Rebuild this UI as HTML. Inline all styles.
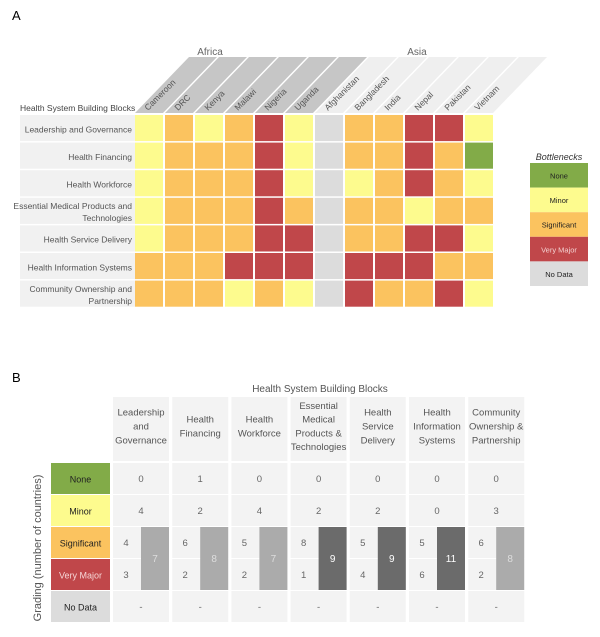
<!DOCTYPE html>
<html><head><meta charset="utf-8"><style>
html,body{margin:0;padding:0;background:#fff;}
svg{display:block;font-family:"Liberation Sans",sans-serif;}
</style></head><body>
<svg id="c" width="600" height="637" viewBox="0 0 600 637" xmlns="http://www.w3.org/2000/svg">
<text x="12" y="20" font-size="13" fill="#000">A</text>
<text x="12" y="382" font-size="13" fill="#000">B</text>
<g id="ga"></g>
<g id="gb"></g>
</svg>
<script>
const countries = ["Cameroon","DRC","Kenya","Malawi","Nigeria","Uganda","Afghanistan","Bangladesh","India","Nepal","Pakistan","Vietnam"];
const regions = ["Africa","Africa","Africa","Africa","Africa","Africa","Asia","Asia","Asia","Asia","Asia","Asia"];
const blocks = [["Leadership and Governance"],["Health Financing"],["Health Workforce"],["Essential Medical Products and","Technologies"],["Health Service Delivery"],["Health Information Systems"],["Community Ownership and","Partnership"]];
// Y=minor S=significant V=very major N=no data G=none
const grades = [
"YSYSVYNSSVVY",
"YSSSVYNSSVSG",
"YSSSVYNYSVSY",
"YSSSVSNSSYSS",
"YSSSVVNSSVVY",
"SSSVVVNVVVSS",
"SSSYSYNVSSVY"];
const legendLabels = ["None","Minor","Significant","Very Major","No Data"];
const legendKeys = ["G","Y","S","V","N"];
const colB = [["Leadership","and","Governance"],["Health","Financing"],["Health","Workforce"],["Essential","Medical","Products &","Technologies"],["Health","Service","Delivery"],["Health","Information","Systems"],["Community","Ownership &","Partnership"]];
const cntNone = [0,1,0,0,0,0,0];
const cntMinor = [4,2,4,2,2,0,3];
const cntSig = [4,6,5,8,5,5,6];
const cntVM = [3,2,2,1,4,6,2];
const totals = [7,8,7,9,9,11,8];

const COL = {G:"#82ab48",Y:"#fdfb8e",S:"#fbc35f",V:"#c0474a",N:"#dcdcdc"};
const NS="http://www.w3.org/2000/svg";
function mk(tag, attrs, parent){const e=document.createElementNS(NS,tag);for(const k in attrs)e.setAttribute(k,attrs[k]);parent.appendChild(e);return e;}
function txt(x,y,s,size,fill,anchor,parent){const t=mk("text",{x:x,y:y,"font-size":size,fill:fill,"text-anchor":anchor},parent);t.textContent=s;return t;}

const ga=document.getElementById("ga");
const x0=135, cw=28, cs=30, y0=115, rh=27.6;
const cx=i=>x0+i*cs, ry=j=>y0+j*rh;
// header bands
const bTop=57, bBot=113, sh=54;
countries.forEach((c,i)=>{
  const x=cx(i);
  const p=mk("polygon",{points:`${x},${bBot} ${x+cw},${bBot} ${x+cw+sh},${bTop} ${x+sh},${bTop}`,fill:regions[i]==="Africa"?"#c6c6c6":"#efefef"},ga);
  
  
  const t=txt(x+13,bBot-2,c,8.5,"#555","start",ga);
  t.setAttribute("transform",`rotate(-45 ${x+13} ${bBot-2})`);
  
  
});
let t=txt(210,55,"Africa",10,"#666","middle",ga);


t=txt(417,55,"Asia",10,"#666","middle",ga);


t=txt(20,111,"Health System Building Blocks",8.5,"#444","start",ga);


blocks.forEach((b,j)=>{
  const r=mk("rect",{x:20,y:ry(j),width:x0-20,height:rh-1.5,fill:"#f1f1f1"},ga);
  
  
  const yc=ry(j)+rh/2;
  b.forEach((line,k)=>{
    const tt=txt(x0-3,yc+3.5+(k-(b.length-1)/2)*12,line,8.5,"#555","end",ga);
    
    
  });
  countries.forEach((c,i)=>{
    const cell=mk("rect",{x:cx(i),y:ry(j),width:cw,height:rh-1.5,fill:COL[grades[j][i]]},ga);
    
    
  });
});
// legend
t=txt(559,160,"Bottlenecks",9,"#333","middle",ga);
t.setAttribute("font-style","italic");


legendLabels.forEach((l,k)=>{
  const y=163+k*24.6;
  const r=mk("rect",{x:530,y:y,width:58,height:24.6,fill:COL[legendKeys[k]]},ga);
  
  
  const tt=txt(559,y+15.5,l,7.5,legendKeys[k]==="V"?"#f3d0d0":"#222","middle",ga);
  
  
});

// panel B
const gb=document.getElementById("gb");
const bx0=113, bcw=56, bcs=59.2;
const rowY=[463,495,527,559,591], brh=31;
const bcx=i=>bx0+i*bcs;
t=txt(320,392,"Health System Building Blocks",10,"#555","middle",gb);


t=txt(0,0,"Grading (number of countries)",11,"#555","middle",gb);
t.setAttribute("transform","translate(41 548) rotate(-90)");


legendLabels.forEach((l,k)=>{
  const r=mk("rect",{x:51,y:rowY[k],width:59,height:brh,fill:COL[legendKeys[k]]},gb);
  
  
  const tt=txt(80.5,rowY[k]+19.5,l,9,legendKeys[k]==="V"?"#f6d6d6":"#222","middle",gb);
  
  
});
colB.forEach((lines,i)=>{
  const x=bcx(i), xc=x+bcw/2;
  const h=mk("rect",{x:x,y:397,width:bcw,height:64,fill:"#f3f3f3"},gb);
  
  
  lines.forEach((ln,k)=>{
    const tt=txt(xc,429.5+(k-(lines.length-1)/2)*13.8,ln,9.5,"#555","middle",gb);
    
    
  });
  rowY.forEach((y,k)=>{
    const r=mk("rect",{x:x,y:y,width:bcw,height:brh,fill:"#f3f3f3"},gb);
    
    
  });
  let tt=txt(xc,rowY[0]+19,String(cntNone[i]),9.5,"#666","middle",gb);
  
  
  tt=txt(xc,rowY[1]+19,String(cntMinor[i]),9.5,"#666","middle",gb);
  
  
  tt=txt(x+13,rowY[2]+19,String(cntSig[i]),9.5,"#666","middle",gb);
  
  
  tt=txt(x+13,rowY[3]+19,String(cntVM[i]),9.5,"#666","middle",gb);
  
  
  tt=txt(xc,rowY[4]+19,"-",9.5,"#666","middle",gb);
  
  
  const dark=totals[i]>8;
  const bar=mk("rect",{x:x+bcw-28,y:rowY[2],width:28,height:63,fill:dark?"#6b6b6b":"#ababab"},gb);
  
  
  tt=txt(x+bcw-14,rowY[2]+35,String(totals[i]),10,dark?"#fff":"#ddd","middle",gb);
  
  
});
</script>
</body></html>
